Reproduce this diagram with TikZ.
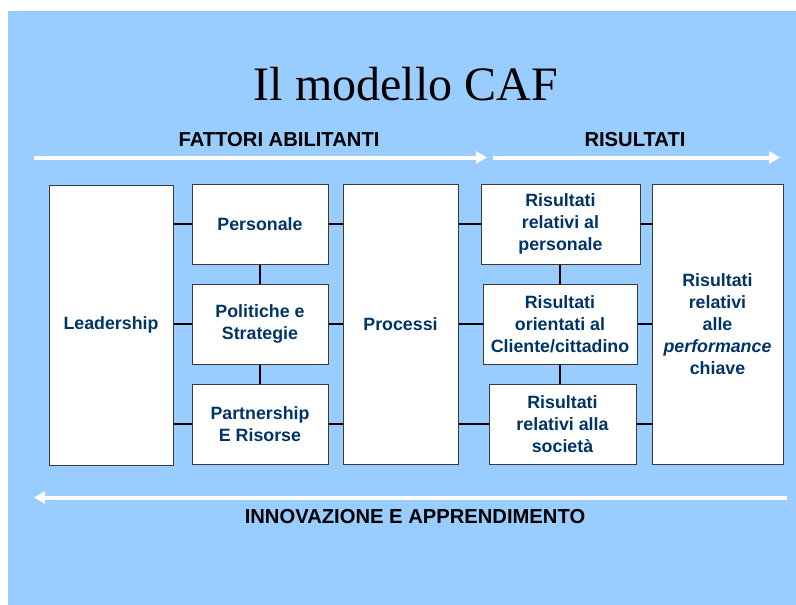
\documentclass[tikz,border=0pt]{standalone}
\usepackage{fontspec}
\setmainfont{Liberation Sans}
\newfontfamily\titlefont{Liberation Serif}
\usetikzlibrary{arrows.meta}
\definecolor{cafbg}{HTML}{99CCFF}
\definecolor{cafblue}{HTML}{003366}
\definecolor{cafedge}{HTML}{3A3A3A}
\tikzset{
  cafbox/.style={draw=cafedge, line width=1pt, fill=white, align=center, inner sep=0pt,
    text=cafblue, font=\bfseries\fontsize{17.8}{22}\selectfont},
  link/.style={line width=2pt, black},
  flow/.style={white, line width=4pt, -{Triangle[length=11pt,width=12pt]}},
  head/.style={font=\bfseries\fontsize{20.2}{24}\selectfont}
}
\begin{document}
\begin{tikzpicture}[x=1pt,y=-1pt]
\useasboundingbox (0,0) rectangle (796,605);
\fill[cafbg] (8,11) rectangle (796,605);

\node[font=\titlefont\fontsize{48}{55}\selectfont, anchor=base] (title) at (406,100) {Il modello CAF};
\node[head] (fattori) at (279,140) {FATTORI ABILITANTI};
\node[head] (risultati) at (635,140) {RISULTATI};
\node[head] (innovazione) at (415,517) {INNOVAZIONE E APPRENDIMENTO};

\coordinate (fa1) at (34,157.5);
\coordinate (fa2) at (487,157.5);
\coordinate (ri1) at (493,157.5);
\coordinate (ri2) at (780,157.5);
\coordinate (in1) at (787,497.5);
\coordinate (in2) at (34,497.5);
\draw[flow] (fa1) -- (fa2);
\draw[flow] (ri1) -- (ri2);
\draw[flow] (in1) -- (in2);

\node[cafbox, minimum width=124pt, minimum height=280pt] (leadership) at (111,325) {\raisebox{-2pt}{Leadership}};
\node[cafbox, minimum width=136pt, minimum height=80pt] (personale) at (260,224) {\raisebox{-1.5pt}{Personale}};
\node[cafbox, minimum width=136pt, minimum height=80pt] (politiche) at (260,324) {Politiche e\\Strategie};
\node[cafbox, minimum width=136pt, minimum height=80pt] (partnership) at (260,424) {Partnership\\E Risorse};
\node[cafbox, minimum width=115pt, minimum height=280pt] (processi) at (400.5,324) {\raisebox{-1.5pt}{Processi}};
\node[cafbox, minimum width=159pt, minimum height=80pt] (rpersonale) at (560.5,224) {Risultati\\relativi al\\personale};
\node[cafbox, minimum width=154pt, minimum height=80pt] (rcliente) at (560,324) {Risultati\\orientati al\\Cliente/cittadino};
\node[cafbox, minimum width=147pt, minimum height=80pt] (rsocieta) at (562.5,424) {Risultati\\relativi alla\\società};
\node[cafbox, minimum width=131pt, minimum height=280pt] (rchiave) at (717.5,324) {Risultati\\relativi\\alle\\\textit{performance}\\chiave};

% first row
\draw[link] (leadership.east |- personale.west) -- (personale.west);
\draw[link] (personale.east) -- (personale.east -| processi.west);
\draw[link] (processi.east |- rpersonale.west) -- (rpersonale.west);
\draw[link] (rpersonale.east) -- (rpersonale.east -| rchiave.west);
% second row
\draw[link] (leadership.east |- politiche.west) -- (politiche.west);
\draw[link] (politiche.east) -- (politiche.east -| processi.west);
\draw[link] (processi.east |- rcliente.west) -- (rcliente.west);
\draw[link] (rcliente.east) -- (rcliente.east -| rchiave.west);
% third row
\draw[link] (leadership.east |- partnership.west) -- (partnership.west);
\draw[link] (partnership.east) -- (partnership.east -| processi.west);
\draw[link] (processi.east |- rsocieta.west) -- (rsocieta.west);
\draw[link] (rsocieta.east) -- (rsocieta.east -| rchiave.west);
% columns
\draw[link] (personale.south) -- (politiche.north);
\draw[link] (politiche.south) -- (partnership.north);
\draw[link] (rcliente.north |- rpersonale.south) -- (rcliente.north);
\draw[link] (rcliente.south) -- (rcliente.south |- rsocieta.north);
\end{tikzpicture}
\end{document}
